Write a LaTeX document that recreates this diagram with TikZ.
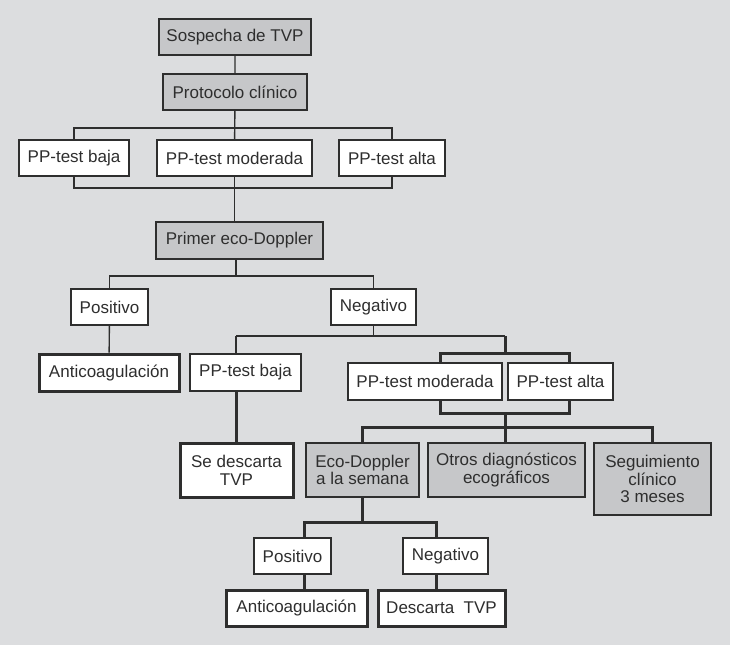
\documentclass[tikz,border=0pt]{standalone}
\usepackage{fontspec}
\setmainfont{Liberation Sans}
\usepackage{tikz}

\definecolor{bg}{HTML}{DCDDDF}
\definecolor{shade}{HTML}{C6C7C9}
\definecolor{ink}{HTML}{2E2E2E}

\tikzset{
  box/.style={draw=ink, fill=white, line width=1.4pt, inner sep=0pt, align=center,
    text=ink, font=\fontsize{17}{17.7}\selectfont},
  shaded/.style={box, fill=shade},
  final/.style={box, line width=3pt},
  dims/.style 2 args={minimum width=#1pt, minimum height=#2pt},
  link/.style={draw=ink, line width=1.4pt},
  heavy/.style={draw=ink, line width=3pt}
}

\begin{document}
\begin{tikzpicture}[x=1pt, y=-1pt]
                \fill [bg] (0,0) rectangle (730,645);
                \node [shaded, dims={152}{36}] (suspect) at (235,37) {Sospecha de TVP};
                \node [shaded, dims={144}{36}] (protocol) at (235,92) {Protocolo clínico};
                \node [box, dims={110}{36}] (low) at (74,158) {PP-test baja};
                \node [box, dims={155}{36}] (moderate) at (234.5,158) {PP-test moderada};
                \node [box, dims={106}{36}] (high) at (392,158) {PP-test alta};
                \node [shaded, dims={167}{37}] (doppler) at (239.5,240.5) {Primer eco-Doppler};
                \node [box, dims={77}{36}] (pos) at (109.5,307) {Positivo};
                \node [box, dims={85}{36}] (neg) at (373.5,307) {Negativo};
                \node [final, dims={140}{37}] (anticoag) at (109,372.5) {Anticoagulación};
                \node [box, dims={111}{37}] (low2) at (245.5,372.5) {PP-test baja};
                \node [box, dims={154}{37}] (moderate2) at (425,381.5) {PP-test moderada};
                \node [box, dims={105}{37}] (high2) at (560.5,381.5) {PP-test alta};
                \node [final, dims={113}{54}] (ruledout) at (236.5,470) {Se descarta\\TVP};
                \node [shaded, dims={113}{54}] (week) at (362.5,470) {Eco-Doppler\\a la semana};
                \node [shaded, dims={157}{54}] (other) at (506.5,470) {Otros diagnósticos\\ecográficos};
                \node [shaded, dims={117}{72}] (followup) at (652.5,479) {Seguimiento\\clínico\\3 meses};
                \node [box, dims={77}{36}] (pos2) at (292.5,556) {Positivo};
                \node [box, dims={85}{36}] (neg2) at (445.5,556) {Negativo};
                \node [final, dims={141}{36}] (anticoag2) at (296.5,608) {Anticoagulación};
                \node [final, dims={127}{36}] (nodvt) at (441.5,608) {Descarta~~TVP};

                \coordinate (j1) at (235,128);
                \coordinate (j2) at (235,188);
                \coordinate (j3) at (236,276);
                \coordinate (j4) at (236,336);
                \coordinate (j5) at (505,336);
                \coordinate (j6) at (505,353);
                \coordinate (k1) at (440,353);
                \coordinate (k2) at (569,353);
                \coordinate (k3) at (440,413);
                \coordinate (k4) at (569,413);
                \coordinate (j7) at (505,427);
                \coordinate (m0) at (362,522);
                \coordinate (m1) at (304,522);
                \coordinate (m2) at (436,522);

                \draw [link] (suspect) -- (protocol) (protocol) -- (moderate);
                \draw [link] (low.north) |- (j1) -| (high.north);
                \draw [link] (low.south) |- (j2) -| (high.south);
                \draw [link] (moderate.south) -- (moderate.south |- doppler.north);
                \draw [link] (doppler.south -| j3) -- (j3);
                \draw [link] (pos.north) |- (j3) -| (neg.north);
                \draw [link] (pos) -- (anticoag);
                \draw [link] (neg.south) -- (neg.south |- j4);
                \draw [link] (j4) -- (j5) (j4) -- (j4 |- low2.north);
                \draw [heavy] (low2.south -| j4) -- (ruledout.north -| j4);
                \draw [heavy] (j5) -- (j6);
                \draw [heavy] (k1 |- moderate2.north) -- (k1) -- (k2) -- (k2 |- high2.north);
                \draw [heavy] (moderate2.south -| k3) -- (k3) -- (k4) -- (high2.south -| k4);
                \draw [heavy] (j7 |- k3) -- (j7) (j7) -- (j7 |- other.north);
                \draw [heavy] (week.north) |- (j7) -| (followup.north);
                \draw [heavy] (week.south) -- (week.south |- m0);
                \draw [heavy] (m1 |- pos2.north) -- (m1) -- (m2) -- (m2 |- neg2.north);
                \draw [heavy] (pos2.south -| m1) -- (anticoag2.north -| m1);
                \draw [heavy] (neg2.south -| m2) -- (nodvt.north -| m2);
\end{tikzpicture}
\end{document}
